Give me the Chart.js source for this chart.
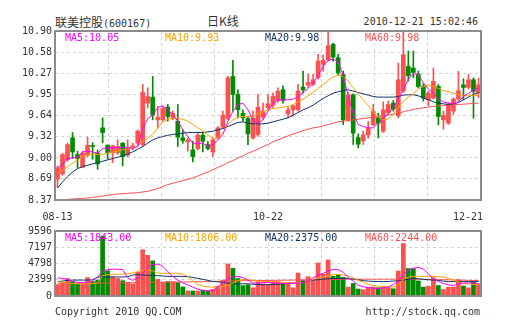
<!DOCTYPE html>
<html>
<head>
<meta charset="utf-8">
<title>联美控股 日K线</title>
<script src="https://cdn.jsdelivr.net/npm/chart.js@4/dist/chart.umd.min.js"></script>
<style>
    body { margin: 0; background: #fff; }
    #wrap { position: relative; width: 505px; height: 330px; overflow: hidden; font-family: 'DejaVu Sans Mono', monospace; color: #333; }
    #wrap canvas { position: absolute; left: 0; }
    .txt { position: absolute; font-size: 10px; line-height: 12px; white-space: nowrap; }
    .cjk { font-family: 'Noto Sans CJK SC', sans-serif; font-size: 12px; }
</style>
</head>
<body>
<div id="wrap">
    <div class="txt" style="left:55px;top:16px;"><span class="cjk">联美控股</span>(600167)</div>
    <div class="txt cjk" style="left:207px;top:15px;">日K线</div>
    <div class="txt" style="right:27px;top:16px;">2010-12-21 15:02:46</div>
    <canvas id="priceChart" width="505" height="225" style="top:0;"></canvas>
    <canvas id="volumeChart" width="505" height="105" style="top:200px;"></canvas>
    <div class="txt" style="left:55px;top:306px;">Copyright 2010 QQ.COM</div>
    <div class="txt" style="right:25px;top:306px;">http://stock.qq.com</div>
</div>

<script>
// Trading days shown on the chart
const dates = [
    '08-13', '08-16', '08-17', '08-18', '08-19', '08-20', '08-23', '08-24', '08-25', '08-26', '08-27', '08-30', '08-31',
    '09-01', '09-02', '09-03', '09-06', '09-07', '09-08', '09-09', '09-10', '09-13', '09-14', '09-15', '09-16', '09-17',
    '09-20', '09-21', '09-27', '09-28', '09-29', '09-30',
    '10-08', '10-11', '10-12', '10-13', '10-14', '10-15', '10-18', '10-19', '10-20', '10-21', '10-22', '10-25', '10-26',
    '10-27', '10-28', '10-29',
    '11-01', '11-02', '11-03', '11-04', '11-05', '11-08', '11-09', '11-10', '11-11', '11-12', '11-15', '11-16', '11-17',
    '11-18', '11-19', '11-22', '11-23', '11-24', '11-25', '11-26', '11-29', '11-30',
    '12-01', '12-02', '12-03', '12-06', '12-07', '12-08', '12-09', '12-10', '12-13', '12-14', '12-15', '12-16', '12-17',
    '12-20', '12-21'
];

const openPrices = [
    8.68, 8.76, 8.97, 9.30, 9.05, 8.86, 9.04, 9.18, 9.07, 9.45, 9.19, 9.08, 9.08, 9.22, 9.04, 9.16, 9.22, 9.20, 9.82, 9.91,
    9.57, 9.57, 9.76, 9.60, 9.55, 9.30, 9.24, 9.12, 9.14, 9.34, 9.20, 9.09, 9.30, 9.46, 9.59, 10.22, 9.95, 9.67, 9.59, 9.30,
    9.35, 9.61, 9.75, 9.79, 9.86, 10.02, 9.66, 9.72, 9.72, 10.06, 10.09, 10.10, 10.20, 10.40, 10.47, 10.70, 10.50, 10.25, 9.57, 9.945,
    9.305, 9.255, 9.345, 9.495, 9.60, 9.40, 9.68, 9.82, 9.63, 10.00, 10.37, 10.345, 10.255, 10.07, 9.87, 9.895, 10.07, 9.57, 9.52, 9.70,
    9.885, 10.095, 10.055, 10.17, 9.97
];
const closePrices = [
    8.85, 9.05, 9.20, 9.09, 8.99, 9.07, 9.19, 9.17, 8.91, 9.38, 9.08, 9.18, 9.17, 9.02, 9.15, 9.18, 9.40, 9.98, 9.92, 9.64,
    9.61, 9.74, 9.62, 9.67, 9.31, 9.26, 9.27, 9.02, 9.34, 9.25, 9.14, 9.27, 9.45, 9.64, 10.20, 9.95, 9.72, 9.60, 9.36, 9.60,
    9.76, 9.70, 9.81, 9.92, 10.00, 9.86, 9.72, 9.78, 10.00, 10.02, 10.13, 10.17, 10.45, 10.46, 10.68, 10.51, 10.27, 9.57, 9.94, 9.37,
    9.205, 9.345, 9.445, 9.695, 9.52, 9.72, 9.80, 9.73, 10.17, 10.545, 10.23, 10.28, 10.07, 9.895, 9.97, 10.145, 9.62, 9.635, 9.805, 9.88,
    10.005, 10.055, 10.17, 9.995, 10.095
];
const highPrices = [
    8.88, 9.07, 9.22, 9.38, 9.10, 9.10, 9.31, 9.23, 9.12, 9.60, 9.20, 9.19, 9.27, 9.23, 9.27, 9.22, 9.42, 10.10, 10.05, 10.22,
    9.77, 9.77, 9.80, 9.70, 9.80, 9.42, 9.30, 9.25, 9.37, 9.39, 9.25, 9.30, 9.47, 9.70, 10.22, 10.46, 10.02, 9.72, 9.62, 9.70,
    9.95, 9.82, 9.95, 9.97, 10.05, 10.08, 9.76, 9.80, 10.10, 10.30, 10.25, 10.25, 10.55, 10.54, 10.90, 10.72, 10.55, 10.30, 9.98, 9.96,
    9.36, 9.40, 9.545, 9.80, 9.67, 9.84, 9.85, 9.86, 10.42, 10.90, 10.60, 10.60, 10.30, 10.11, 10.00, 10.345, 10.10, 9.70, 9.83, 9.90,
    10.295, 10.185, 10.25, 10.20, 10.195
];
const lowPrices = [
    8.56, 8.74, 8.95, 8.99, 8.85, 8.85, 9.02, 8.98, 8.83, 9.23, 8.98, 8.93, 9.05, 8.88, 9.02, 9.12, 9.18, 9.17, 9.75, 9.57,
    9.45, 9.55, 9.55, 9.57, 9.17, 9.22, 9.10, 8.94, 9.12, 9.09, 9.12, 9.02, 9.28, 9.44, 9.57, 9.70, 9.60, 9.55, 9.20, 9.28,
    9.32, 9.58, 9.72, 9.75, 9.83, 9.82, 9.60, 9.62, 9.70, 9.97, 10.05, 10.08, 10.18, 10.30, 10.45, 10.45, 10.24, 9.50, 9.55, 9.20,
    9.15, 9.20, 9.295, 9.48, 9.30, 9.38, 9.65, 9.70, 9.60, 9.98, 10.15, 10.20, 10.05, 9.85, 9.78, 9.88, 9.495, 9.43, 9.50, 9.65,
    9.86, 9.87, 10.03, 9.595, 9.90
];

// Price moving averages
const priceMa5 = [
    8.85, 8.90, 8.99, 9.00, 9.01, 9.09, 9.10, 9.09, 9.07, 9.14, 9.15, 9.15, 9.16, 9.15, 9.16, 9.14, 9.17, 9.44, 9.59, 9.64,
    9.76, 9.78, 9.72, 9.65, 9.55, 9.42, 9.32, 9.22, 9.22, 9.22, 9.17, 9.20, 9.27, 9.35, 9.55, 9.70, 9.80, 9.82, 9.72, 9.56,
    9.52, 9.57, 9.70, 9.82, 9.87, 9.87, 9.87, 9.88, 9.92, 9.98, 10.04, 10.12, 10.24, 10.37, 10.46, 10.48, 10.44, 10.23, 9.93, 9.66,
    9.50, 9.47, 9.45, 9.45, 9.52, 9.60, 9.66, 9.75, 9.88, 10.02, 10.18, 10.26, 10.25, 10.12, 10.03, 9.97, 9.88, 9.84, 9.82, 9.81,
    9.84, 9.92, 9.97, 10.01, 10.05
];
const priceMa10 = [
    8.77, 8.81, 8.87, 8.92, 8.97, 9.02, 9.045, 9.055, 9.05, 9.055, 9.07, 9.085, 9.105, 9.12, 9.135, 9.145, 9.185, 9.245, 9.295, 9.355,
    9.45, 9.53, 9.58, 9.59, 9.59, 9.58, 9.55, 9.50, 9.45, 9.40, 9.34, 9.29, 9.30, 9.38, 9.50, 9.57, 9.61, 9.62, 9.62, 9.63,
    9.66, 9.69, 9.72, 9.74, 9.75, 9.76, 9.77, 9.80, 9.84, 9.88, 9.93, 9.98, 10.04, 10.10, 10.16, 10.21, 10.24, 10.22, 10.15, 10.05,
    9.96, 9.87, 9.78, 9.68, 9.62, 9.57, 9.58, 9.66, 9.75, 9.85, 9.91, 9.96, 10.03, 10.07, 10.09, 10.07, 10.04, 10.01, 9.99, 9.97,
    9.95, 9.93, 9.93, 9.94, 9.93
];
const priceMa20 = [
    8.55, 8.64, 8.72, 8.79, 8.84, 8.87, 8.89, 8.91, 8.93, 8.95, 8.97, 8.99, 9.01, 9.03, 9.06, 9.09, 9.13, 9.17, 9.22, 9.27,
    9.30, 9.32, 9.34, 9.35, 9.36, 9.37, 9.38, 9.38, 9.38, 9.38, 9.39, 9.40, 9.42, 9.44, 9.47, 9.50, 9.53, 9.54, 9.52, 9.51,
    9.51, 9.51, 9.52, 9.54, 9.56, 9.58, 9.60, 9.64, 9.68, 9.72, 9.75, 9.79, 9.84, 9.89, 9.93, 9.97, 9.99, 10.01, 10.02, 10.00,
    9.98, 9.96, 9.94, 9.92, 9.91, 9.91, 9.91, 9.91, 9.92, 9.94, 9.945, 9.945, 9.93, 9.90, 9.87, 9.84, 9.82, 9.81, 9.80, 9.81,
    9.83, 9.87, 9.91, 9.95, 9.98
];
const priceMa60 = [
    8.37, 8.375, 8.38, 8.385, 8.39, 8.395, 8.40, 8.41, 8.42, 8.43, 8.44, 8.45, 8.46, 8.465, 8.47, 8.475, 8.48, 8.49, 8.50, 8.52,
    8.54, 8.57, 8.60, 8.62, 8.64, 8.66, 8.68, 8.70, 8.73, 8.76, 8.79, 8.82, 8.86, 8.89, 8.93, 8.96, 9.00, 9.03, 9.07, 9.10,
    9.13, 9.17, 9.20, 9.24, 9.27, 9.30, 9.33, 9.36, 9.38, 9.41, 9.43, 9.45, 9.46, 9.48, 9.50, 9.52, 9.54, 9.55, 9.56, 9.57,
    9.58, 9.59, 9.60, 9.61, 9.62, 9.63, 9.64, 9.655, 9.67, 9.69, 9.71, 9.725, 9.74, 9.75, 9.76, 9.77, 9.78, 9.785, 9.79, 9.795,
    9.80, 9.805, 9.81, 9.815, 9.82
];

// Volume (lots) and its moving averages
const volumes = [
    1670, 1990, 2580, 2120, 1800, 1800, 2720, 2120, 2350, 8850, 3720, 2810, 2580, 2260, 1990, 1800, 3500, 6830, 6010, 5190,
    2450, 1990, 2120, 2120, 1990, 1350, 750, 750, 750, 850, 750, 980, 1440, 2350, 4730, 4090, 2580, 1530, 1670, 1210,
    2120, 1800, 1670, 2120, 2120, 1900, 1990, 1210, 3380, 2300, 2860, 2250, 4870, 3200, 5320, 2900, 3200, 2750, 1320, 1850,
    1030, 940, 1300, 1330, 1230, 1300, 1250, 1070, 3680, 7750, 4050, 4050, 2230, 1320, 1440, 2700, 1550, 960, 1320, 1320,
    2400, 1480, 1210, 2010, 1800
];
const volumeMa5 = [
    2670, 2600, 2450, 2200, 1990, 1990, 2000, 2200, 2800, 3700, 3900, 3950, 3950, 3900, 2700, 2300, 2700, 3300, 4200, 4650,
    4700, 4400, 3600, 2900, 2350, 1900, 1650, 1300, 1000, 850, 760, 830, 1350, 1990, 2500, 2810, 2900, 2700, 2350, 1900,
    1900, 1990, 1990, 1950, 1900, 1850, 1850, 1900, 1850, 2000, 2150, 2700, 3100, 3350, 3700, 3900, 3900, 3500, 2700, 2200,
    1600, 1350, 1250, 1150, 1100, 1200, 1300, 1700, 2200, 3200, 3800, 4100, 4250, 3950, 3300, 2500, 2150, 1850, 1650, 1550,
    1800, 1900, 1950, 1900, 1840
];
const volumeMa10 = [
    2120, 2000, 1900, 1850, 1800, 1800, 1800, 1850, 1900, 3000, 3150, 3200, 3200, 3250, 3300, 3400, 3600, 3800, 3850, 3700,
    3400, 3350, 3350, 3350, 3350, 3250, 2900, 2200, 1700, 1450, 1350, 1300, 1350, 1400, 1600, 1900, 2300, 2450, 2400, 2350,
    2200, 2150, 2130, 2100, 2050, 2000, 1950, 1950, 1950, 2000, 2100, 2500, 2650, 2800, 2950, 3150, 3200, 3100, 2950, 2700,
    2300, 2050, 1700, 1550, 1450, 1420, 1380, 1350, 1600, 2500, 2800, 2900, 2900, 2900, 2900, 2900, 2850, 2800, 2600, 2350,
    2100, 1850, 1750, 1700, 1680
];
const volumeMa20 = [
    2130, 2200, 2300, 2350, 2350, 2350, 2350, 2380, 2800, 2810, 2810, 2810, 2810, 2810, 2850, 3100, 3180, 3100, 3050, 3040,
    3000, 2950, 2900, 2900, 2900, 2900, 2850, 2750, 2600, 2450, 2300, 2150, 2100, 2000, 1900, 1800, 1800, 1800, 1800, 1750,
    1700, 1670, 1670, 1700, 1750, 1800, 1850, 1900, 1990, 2050, 2150, 2330, 2400, 2500, 2550, 2580, 2580, 2580, 2580, 2500,
    2400, 2270, 2200, 2150, 2130, 2120, 2150, 2200, 2260, 2350, 2450, 2580, 2550, 2450, 2400, 2350, 2300, 2200, 2130, 2130,
    2130, 2130, 2130, 2130, 2130
];
const volumeMa60 = [
    1800, 1810, 1820, 1830, 1840, 1850, 1860, 1870, 1880, 1900, 1920, 1930, 1940, 1950, 1960, 1970, 1980, 1990, 2000, 2010,
    2020, 2030, 2040, 2050, 2060, 2070, 2080, 2090, 2100, 2110, 2120, 2140, 2160, 2180, 2200, 2220, 2240, 2250, 2260, 2270,
    2280, 2290, 2300, 2310, 2320, 2330, 2340, 2350, 2360, 2380, 2400, 2410, 2420, 2430, 2440, 2450, 2460, 2470, 2480, 2480,
    2480, 2480, 2480, 2480, 2480, 2490, 2490, 2490, 2500, 2500, 2500, 2490, 2480, 2470, 2460, 2450, 2430, 2410, 2390, 2370,
    2350, 2330, 2310, 2290, 2270
];

const priceTicks = [8.37, 8.69, 9.00, 9.32, 9.64, 9.95, 10.27, 10.58, 10.90];
const volumeTicks = [0, 2399, 4798, 7197, 9596];
const xTickLabels = ['08-13', '10-22', '12-21'];
const priceMaLabels = ['MA5:10.05', 'MA10:9.93', 'MA20:9.98', 'MA60:9.98'];
const volumeMaLabels = ['MA5:1843.00', 'MA10:1806.00', 'MA20:2375.00', 'MA60:2244.00'];

const maColors = ['#ff00ff', '#ffa200', '#0f3466', '#ff5050'];
const upColor = '#ff5050';
const downColor = '#008c00';
const gridColor = '#d2d2d2';
const textFont = "10px 'DejaVu Sans Mono', monospace";

Chart.defaults.font.family = "'DejaVu Sans Mono', monospace";
Chart.defaults.font.size = 10;
Chart.defaults.color = '#333';

document.addEventListener('DOMContentLoaded', function() {
    initializePriceChart();
    initializeVolumeChart();
});

function candleColors() {
    return closePrices.map((c, i) => c >= openPrices[i] ? upColor : downColor);
}

function maLine(data, color) {
    return {
        type: 'line',
        data: data,
        borderColor: color,
        borderWidth: 1,
        pointRadius: 0,
        tension: 0,
        order: 1
    };
}

// Frame, MA captions and date labels drawn over the chart
function overlayPlugin(maLabels, showDates) {
    return {
        id: 'overlay',
        afterDraw(chart) {
            const ctx = chart.ctx;
            const area = chart.chartArea;
            ctx.save();
            ctx.strokeStyle = '#8c8c8c';
            ctx.lineWidth = 2;
            ctx.strokeRect(area.left, area.top, area.right - area.left, area.bottom - area.top);

            ctx.font = textFont;
            ctx.textBaseline = 'middle';
            maLabels.forEach((label, k) => {
                ctx.fillStyle = maColors[k];
                ctx.fillText(label, area.left + 10 + k * 100, area.top + 7);
            });

            if (showDates) {
                const xScale = chart.scales.x;
                ctx.fillStyle = '#333';
                xTickLabels.forEach(label => {
                    const w = ctx.measureText(label).width;
                    let left = xScale.getPixelForValue(dates.indexOf(label)) - w / 2;
                    left = Math.min(left, area.right + 2 - w);
                    ctx.fillText(label, left, area.bottom + 17);
                });
            }
            ctx.restore();
        }
    };
}

function sharedScales(yMin, yMax, yTicks, yFormat) {
    return {
        x: { type: 'category', display: false, offset: true },
        grid8: {
            type: 'linear',
            position: 'bottom',
            min: 0,
            max: 8,
            ticks: { display: false, stepSize: 1 },
            grid: { color: gridColor, drawTicks: false },
            border: { display: false, dash: [3, 3] },
            afterFit: s => { s.height = 0; }
        },
        y: {
            min: yMin,
            max: yMax,
            afterFit: s => { s.width = 55; },
            afterBuildTicks: s => { s.ticks = yTicks.map(v => ({ value: v })); },
            ticks: { padding: 3, callback: yFormat },
            grid: { color: gridColor, drawTicks: false },
            border: { display: false, dash: [3, 3] }
        }
    };
}

function initializePriceChart() {
    const ctx = document.getElementById('priceChart');
    const colors = candleColors();
    new Chart(ctx, {
        data: {
            labels: dates,
            datasets: [
                maLine(priceMa5, maColors[0]),
                maLine(priceMa10, maColors[1]),
                maLine(priceMa20, maColors[2]),
                maLine(priceMa60, maColors[3]),
                {
                    // candle bodies
                    type: 'bar',
                    data: dates.map((d, i) => [openPrices[i], closePrices[i]]),
                    backgroundColor: colors,
                    barThickness: 4,
                    minBarLength: 1,
                    grouped: false,
                    order: 2
                },
                {
                    // wicks
                    type: 'bar',
                    data: dates.map((d, i) => [lowPrices[i], highPrices[i]]),
                    backgroundColor: colors,
                    barThickness: 1,
                    grouped: false,
                    order: 3
                }
            ]
        },
        options: {
            responsive: false,
            animation: false,
            devicePixelRatio: 1,
            layout: { padding: { top: 31, right: 24, bottom: 25, left: 0 } },
            plugins: { legend: { display: false }, tooltip: { enabled: false } },
            scales: sharedScales(priceTicks[0], priceTicks[priceTicks.length - 1], priceTicks, v => v.toFixed(2))
        },
        plugins: [overlayPlugin(priceMaLabels, true)]
    });
}

function initializeVolumeChart() {
    const ctx = document.getElementById('volumeChart');
    new Chart(ctx, {
        data: {
            labels: dates,
            datasets: [
                maLine(volumeMa5, maColors[0]),
                maLine(volumeMa10, maColors[1]),
                maLine(volumeMa20, maColors[2]),
                maLine(volumeMa60, maColors[3]),
                {
                    type: 'bar',
                    data: volumes,
                    backgroundColor: candleColors(),
                    barThickness: 4,
                    grouped: false,
                    order: 2
                }
            ]
        },
        options: {
            responsive: false,
            animation: false,
            devicePixelRatio: 1,
            layout: { padding: { top: 31, right: 24, bottom: 4, left: 0 } },
            plugins: { legend: { display: false }, tooltip: { enabled: false } },
            scales: sharedScales(0, volumeTicks[volumeTicks.length - 1], volumeTicks, v => String(v))
        },
        plugins: [overlayPlugin(volumeMaLabels, false)]
    });
}
</script>
</body>
</html>
